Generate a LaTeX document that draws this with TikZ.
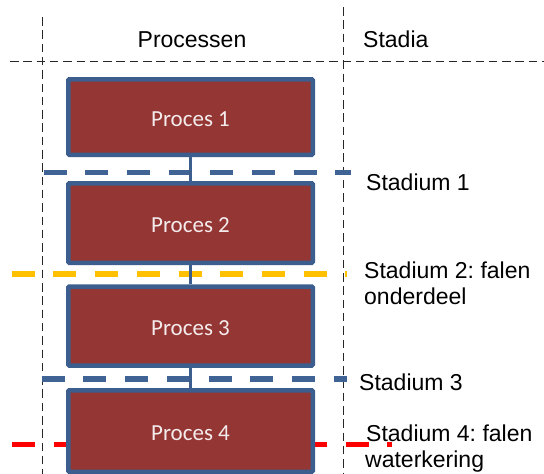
\documentclass[tikz,border=0pt]{standalone}
\usepackage{fontspec}
\setmainfont{Liberation Sans}
\newfontfamily\boxfont{Carlito}
\frenchspacing
\definecolor{boxfill}{HTML}{943634}
\definecolor{boxline}{HTML}{3B5E8E}
\definecolor{stblue}{HTML}{3F6395}
\definecolor{styellow}{HTML}{FFC000}
\definecolor{stred}{HTML}{FF0000}
\definecolor{guide}{HTML}{262626}
\definecolor{boxtext}{HTML}{F4ECEC}
\tikzset{
  procbox/.style={draw=boxline, fill=boxfill, line width=4.5pt, inner sep=0pt,
    minimum width=244.5pt, rounded corners=1pt, text height=18.8pt, text depth=0pt,
    font=\boxfont\fontsize{23}{27}\selectfont, text=boxtext},
  stem/.style={draw=boxline, line width=3.5pt},
  guideline/.style={draw=guide, line width=1.1pt, dash pattern=on 8.5pt off 4.8pt},
  stadline/.style={line width=5.5pt, dash pattern=on 23pt off 18.7pt},
  lbl/.style={font=\frenchspacing\fontsize{23}{27}\selectfont, inner sep=0pt, anchor=base west},
}
\begin{document}
\begin{tikzpicture}[x=1pt,y=-1pt]
\clip (0,0) rectangle (544,474);
\fill[white] (0,0) rectangle (544,474);
% guide lines
\draw[guideline] (42.5,17) -- (42.5,474);
\draw[guideline] (343.5,7) -- (343.5,474);
\draw[guideline] (10,61.5) -- (544,61.5);
% headers
\node[font=\fontsize{23}{27}\selectfont, inner sep=0pt, anchor=base] (hproc) at (192,47.2) {Processen};
\node[lbl] (hstad) at (363,47.2) {Stadia};
% stadium lines (behind boxes)
\draw[stadline, draw=stblue] (43.5,172.5) -- (350.7,172.5);
\draw[stadline, draw=styellow] (11.7,274) -- (347,274);
\draw[stadline, draw=stblue] (41.7,379) -- (347,379);
\draw[stadline, draw=stred] (12,444.3) -- (392,444.3);
% process boxes
\node[procbox, minimum height=75.5pt] (b1) at (190.5,117) {Proces 1};
\node[procbox, minimum height=79.5pt] (b2) at (190.5,223) {Proces 2};
\node[procbox, minimum height=79pt] (b3) at (190.5,326) {Proces 3};
\node[procbox, minimum height=81.5pt] (b4) at (190.5,431) {Proces 4};
% stems
\draw[stem] (b1.south) -- (b2.north);
\draw[stem] (b2.south) -- (b3.north);
\draw[stem] (b3.south) -- (b4.north);
% stadium labels
\node[lbl] (s1) at (366,190) {Stadium 1};
\node[lbl] (s2a) at (364,278.2) {Stadium 2: falen};
\node[lbl] (s2b) at (364,304.9) {onderdeel};
\node[lbl] (s3) at (359,390) {Stadium 3};
\node[lbl] (s4a) at (366,441) {Stadium 4: falen};
\node[lbl] (s4b) at (365,467.6) {waterkering};
\end{tikzpicture}
\end{document}
